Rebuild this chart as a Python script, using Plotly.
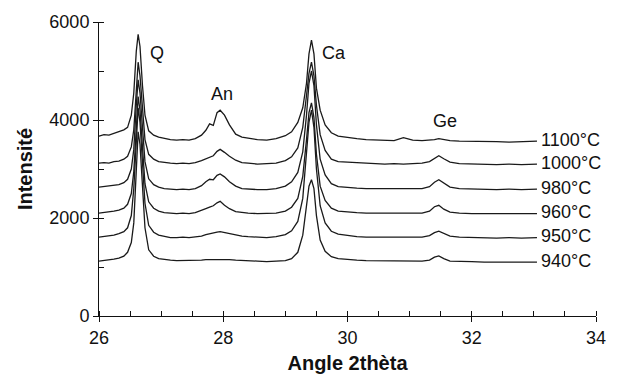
import plotly.graph_objects as go

# 2-theta sampling positions
two_theta = [26.00, 26.08, 26.16, 26.24, 26.32, 26.40, 26.46, 26.52, 26.56, 26.60,
             26.63, 26.66, 26.70, 26.74, 26.80, 26.88, 26.96, 27.05, 27.15, 27.25,
             27.35, 27.45, 27.55, 27.65, 27.72, 27.78, 27.84, 27.90, 27.95, 28.02,
             28.10, 28.20, 28.30, 28.40, 28.55, 28.70, 28.85, 29.00, 29.10, 29.20,
             29.28, 29.34, 29.38, 29.42, 29.46, 29.50, 29.56, 29.64, 29.74, 29.85,
             30.00, 30.15, 30.30, 30.45, 30.60, 30.75, 30.90, 31.05, 31.20, 31.32,
             31.40, 31.47, 31.55, 31.65, 31.80, 32.00, 32.20, 32.40, 32.60, 32.80, 33.05]

i_1100 = [3670, 3700, 3690, 3730, 3760, 3800, 3850, 4100, 4550, 5400,
          5750, 5500, 4700, 4100, 3780, 3690, 3650, 3620, 3600, 3590,
          3600, 3590, 3620, 3690, 3790, 3920, 3890, 4150, 4200, 4100,
          3900, 3710, 3650, 3630, 3600, 3590, 3620, 3680, 3760, 3950,
          4250, 4750, 5350, 5630, 5350, 4650, 4200, 3900, 3740, 3670,
          3640, 3620, 3600, 3590, 3590, 3580, 3640, 3590, 3580, 3590,
          3600, 3620, 3600, 3580, 3570, 3570, 3560, 3560, 3550, 3560, 3570]
i_1000 = [3120, 3130, 3120, 3150, 3160, 3200, 3260, 3450, 3800, 4700,
          5180, 4900, 4200, 3600, 3300, 3200, 3150, 3130, 3120, 3110,
          3120, 3110, 3130, 3170, 3210, 3250, 3270, 3360, 3400, 3340,
          3260, 3180, 3130, 3120, 3100, 3110, 3120, 3170, 3250, 3430,
          3850, 4500, 4950, 5180, 4900, 4300, 3700, 3380, 3200, 3150,
          3140, 3120, 3110, 3110, 3100, 3110, 3100, 3110, 3120, 3150,
          3220, 3270, 3210, 3140, 3110, 3100, 3100, 3090, 3100, 3090, 3100]
i_980 = [2630, 2640, 2650, 2660, 2680, 2720, 2790, 3000, 3400, 4300,
         4820, 4550, 3800, 3150, 2800, 2680, 2630, 2600, 2590, 2580,
         2590, 2580, 2600, 2660, 2740, 2790, 2780, 2870, 2900, 2840,
         2740, 2650, 2600, 2590, 2580, 2580, 2600, 2650, 2740, 2930,
         3350, 4100, 4750, 5000, 4700, 3900, 3200, 2880, 2700, 2640,
         2620, 2610, 2600, 2600, 2590, 2600, 2590, 2590, 2600, 2640,
         2730, 2780, 2720, 2630, 2600, 2590, 2590, 2580, 2590, 2580, 2590]
i_960 = [2100, 2110, 2120, 2140, 2160, 2200, 2280, 2500, 2950, 3950,
         4480, 4200, 3400, 2700, 2330, 2200, 2140, 2110, 2100, 2090,
         2100, 2090, 2110, 2150, 2190, 2220, 2250, 2310, 2340, 2260,
         2190, 2130, 2110, 2100, 2090, 2090, 2100, 2140, 2220, 2400,
         2850, 3600, 4150, 4350, 4050, 3300, 2650, 2360, 2200, 2140,
         2120, 2110, 2100, 2100, 2090, 2100, 2090, 2090, 2100, 2140,
         2230, 2260, 2180, 2120, 2100, 2090, 2090, 2080, 2090, 2080, 2090]
i_950 = [1610, 1620, 1630, 1650, 1680, 1720, 1800, 2050, 2600, 3700,
         4250, 3950, 3050, 2300, 1850, 1710, 1650, 1620, 1600, 1600,
         1610, 1600, 1610, 1630, 1660, 1680, 1690, 1710, 1720, 1700,
         1680, 1650, 1630, 1620, 1610, 1600, 1620, 1660, 1740, 1930,
         2400, 3300, 3950, 4200, 3850, 3000, 2250, 1900, 1730, 1670,
         1640, 1620, 1610, 1610, 1600, 1610, 1600, 1600, 1610, 1640,
         1700, 1730, 1690, 1630, 1610, 1600, 1600, 1590, 1600, 1590, 1600]
i_940 = [1120, 1130, 1140, 1160, 1180, 1220, 1300, 1500, 1900, 3000,
         3760, 3500, 2500, 1800, 1350, 1220, 1170, 1150, 1140, 1130,
         1130, 1140, 1130, 1140, 1150, 1150, 1160, 1160, 1160, 1150,
         1150, 1140, 1130, 1120, 1120, 1110, 1120, 1130, 1170, 1300,
         1650, 2250, 2650, 2780, 2600, 2050, 1550, 1320, 1210, 1170,
         1150, 1140, 1130, 1130, 1120, 1130, 1120, 1120, 1120, 1140,
         1200, 1225, 1170, 1120, 1110, 1110, 1100, 1100, 1100, 1100, 1100]

series_names = ["1100°C", "1000°C", "980°C", "960°C", "950°C", "940°C"]
series_values = [i_1100, i_1000, i_980, i_960, i_950, i_940]

peak_labels = ["Q", "An", "Ca", "Ge"]
peak_x = [26.93, 27.98, 29.79, 31.57]
peak_y = [5370, 4530, 5370, 3970]

x_ticks = [26, 28, 30, 32, 34]
y_ticks = [0, 2000, 4000, 6000]

FONT = "Liberation Sans, Arial, sans-serif"
LINE = "#1a1a1a"
TXT = 18

fig = go.Figure()
for name, vals in zip(series_names, series_values):
    fig.add_trace(go.Scatter(x=two_theta, y=vals, mode="lines", name=name,
                             line=dict(color=LINE, width=1.3), hoverinfo="skip",
                             showlegend=False))

annotations = []
for name, vals in zip(series_names, series_values):
    annotations.append(dict(x=two_theta[-1], y=vals[-1] + 30, xref="x", yref="y",
                            text=name, showarrow=False, xanchor="left", yanchor="middle",
                            xshift=2, font=dict(family=FONT, size=TXT, color="#111")))
for t, px, py in zip(peak_labels, peak_x, peak_y):
    annotations.append(dict(x=px, y=py, xref="x", yref="y", text=t, showarrow=False,
                            xanchor="center", yanchor="middle",
                            font=dict(family=FONT, size=TXT, color="#111")))

axis_common = dict(showline=True, linecolor="#111", linewidth=1, showgrid=False,
                   zeroline=False, tickcolor="#111", tickwidth=1, ticklen=5,
                   automargin=False,
                   tickfont=dict(family=FONT, size=TXT, color="#111"))

fig.update_layout(
    width=619, height=377,
    margin=dict(l=99, r=23, t=22, b=61),
    paper_bgcolor="white", plot_bgcolor="white",
    xaxis=dict(range=[26, 34], tickvals=x_ticks, ticks="outside",
               minor=dict(dtick=0.5, ticks="inside", ticklen=5, tickcolor="#111"),
               title=dict(text="<b>Angle 2thèta</b>", standoff=9,
                          font=dict(family=FONT, size=20, color="#111")),
               **axis_common),
    yaxis=dict(range=[0, 6000], tickvals=y_ticks, ticks="outside",
               minor=dict(dtick=1000, ticks="inside", ticklen=5, tickcolor="#111"),
               title=dict(text="<b>Intensité</b>", standoff=11,
                          font=dict(family=FONT, size=20, color="#111")),
               **axis_common),
    xaxis2=dict(overlaying="x", matches="x", range=[26, 34], tickvals=x_ticks,
                ticks="inside", ticklen=5, tickcolor="#111", showticklabels=False,
                showgrid=False, zeroline=False, showline=False, side="bottom"),
    yaxis2=dict(overlaying="y", matches="y", range=[0, 6000], tickvals=y_ticks,
                ticks="inside", ticklen=5, tickcolor="#111", showticklabels=False,
                showgrid=False, zeroline=False, showline=False, side="left"),
    annotations=annotations,
    showlegend=False,
)

fig.write_html("out.html")
